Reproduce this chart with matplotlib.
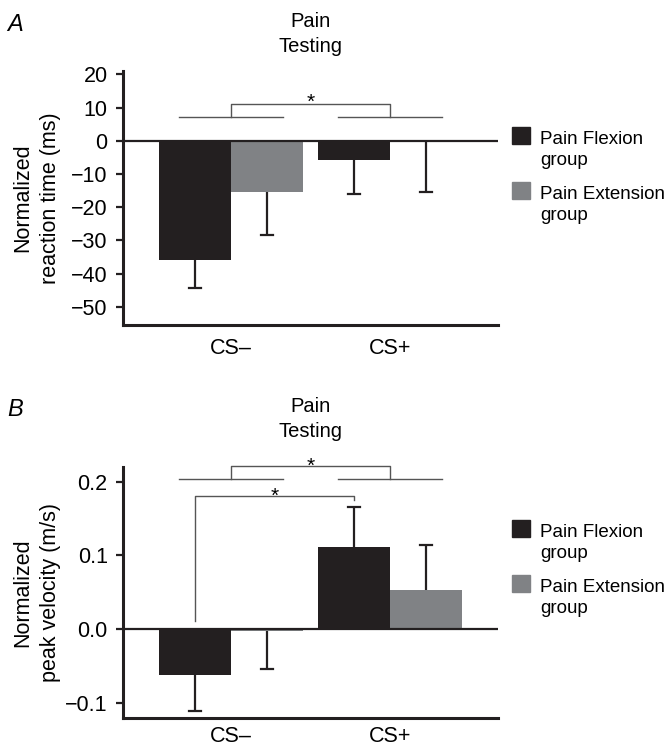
import numpy as np
import matplotlib.pyplot as plt
from matplotlib.patches import Rectangle

plt.rcParams['font.family'] = ['Liberation Sans', 'DejaVu Sans']

groups = ['CS\u2013', 'CS+']
series = [['Pain Flexion', 'group'], ['Pain Extension', 'group']]
colors = ['#231f20', '#808285']

# panel A: normalized reaction time (ms)
rt_flexion = [-36.0, -5.8]
rt_flexion_err = [8.5, 10.2]
rt_extension = [-15.3, -0.2]
rt_extension_err = [13.0, 15.3]

# panel B: normalized peak velocity (m/s)
pv_flexion = [-0.062, 0.111]
pv_flexion_err = [0.049, 0.054]
pv_extension = [-0.003, 0.053]
pv_extension_err = [0.051, 0.061]

W, H = 667, 749
fig = plt.figure(figsize=(W / 100, H / 100), dpi=100)


def px_axes(left, top, right, bottom):
    return fig.add_axes([left / W, 1 - bottom / H, (right - left) / W, (bottom - top) / H])


bar_w = 0.453
x = np.arange(len(groups))


def draw_panel(ax, vals, errs, ylim, yticks, yfmt, ylabel, xpad):
    for i, (v, e) in enumerate(zip(vals, errs)):
        pos = x + (i - 0.5) * bar_w
        ax.bar(pos, v, width=bar_w, color=colors[i], zorder=2)
        for p, vv, ee in zip(pos, v, e):
            end = vv - ee if vv < 0 else vv + ee
            ax.plot([p, p], [vv, end], color='#231f20', lw=1.6, zorder=3, solid_capstyle='butt')
            ax.plot([p - 0.04, p + 0.04], [end, end], color='#231f20', lw=1.6, zorder=3)
    ax.axhline(0, color='#231f20', lw=1.6, zorder=4)
    ax.set_xlim(-0.68, 1.68)
    ax.set_ylim(*ylim)
    ax.set_yticks(yticks)
    ax.set_yticklabels([yfmt(t).replace('-', '\u2212') for t in yticks])
    ax.set_xticks(x)
    ax.set_xticklabels(groups)
    ax.tick_params(axis='x', length=0, labelsize=15.5, pad=xpad)
    ax.tick_params(axis='y', length=5, width=1.6, labelsize=15.5, pad=6, direction='out', color='#231f20')
    for s in ['top', 'right']:
        ax.spines[s].set_visible(False)
    for s in ['left', 'bottom']:
        ax.spines[s].set_linewidth(2.2)
        ax.spines[s].set_color('#231f20')
    ax.set_ylabel(ylabel, fontsize=15.5, linespacing=1.4)
    ax.yaxis.set_label_coords(-0.165, 0.5)


def star(ax, xc, yc):
    ax.annotate('*', (xc, yc), xytext=(0, -8.5), textcoords='offset points',
                ha='center', va='baseline', fontsize=15, annotation_clip=False)


def group_lines(ax, y, y_top, y_star, half=0.33):
    c = '#555555'
    for g in x:
        ax.plot([g - half, g + half], [y, y], color=c, lw=1, clip_on=False)
    ax.plot([x[0], x[0], x[1], x[1]], [y, y_top, y_top, y], color=c, lw=1, clip_on=False)
    star(ax, x.mean(), y_star)


# Panel A
axA = px_axes(123, 71, 498, 325)
draw_panel(axA, [rt_flexion, rt_extension], [rt_flexion_err, rt_extension_err],
           (-55.5, 21), [20, 10, 0, -10, -20, -30, -40, -50], lambda t: f'{t:d}',
           'Normalized\nreaction time (ms)', 9)
group_lines(axA, 7, 11, 13.4)

# Panel B
axB = px_axes(123, 467, 498, 718)
draw_panel(axB, [pv_flexion, pv_extension], [pv_flexion_err, pv_extension_err],
           (-0.121, 0.220), [0.2, 0.1, 0.0, -0.1], lambda t: f'{t:.1f}',
           'Normalized\npeak velocity (m/s)', 6)
group_lines(axB, 0.204, 0.222, 0.2295)
x1, x2 = x[0] - bar_w / 2, x[1] - bar_w / 2
axB.plot([x1, x1, x2, x2], [0.011, 0.181, 0.181, 0.175], color='#555555', lw=1, clip_on=False)
star(axB, (x1 + x2) / 2, 0.1887)

# titles and panel letters (pixel baselines)
for base, letter in [(27, 'A'), (412, 'B')]:
    fig.text(310.5 / W, 1 - base / H, 'Pain', ha='center', va='baseline', fontsize=14.5)
    fig.text(310.5 / W, 1 - (base + 25) / H, 'Testing', ha='center', va='baseline', fontsize=14.5)
    fig.text(7 / W, 1 - (base + 4) / H, letter, ha='left', va='baseline', fontsize=17, style='italic')

# legends
for top in [127, 520]:
    for i, lines in enumerate(series):
        y0 = top + i * 55
        fig.patches.append(Rectangle((512 / W, 1 - (y0 + 17) / H), 18 / W, 17 / H,
                                     transform=fig.transFigure, color=colors[i]))
        for k, t in enumerate(lines):
            fig.text(540 / W, 1 - (y0 + 17 + 21 * k) / H, t, ha='left', va='baseline', fontsize=13.5)

fig.savefig('out.png', dpi=100)
